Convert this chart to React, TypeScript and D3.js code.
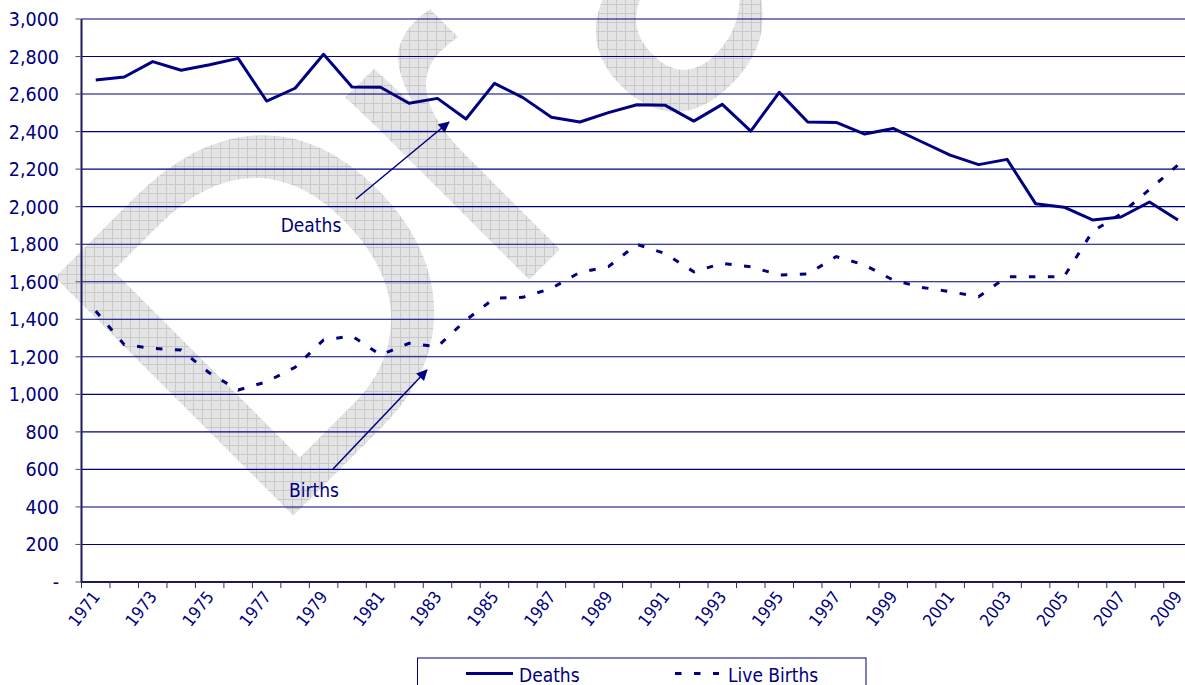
import React from "react";
import * as d3 from "d3";

const years: number[] = [
  1971, 1972, 1973, 1974, 1975, 1976, 1977, 1978, 1979, 1980,
  1981, 1982, 1983, 1984, 1985, 1986, 1987, 1988, 1989, 1990,
  1991, 1992, 1993, 1994, 1995, 1996, 1997, 1998, 1999, 2000,
  2001, 2002, 2003, 2004, 2005, 2006, 2007, 2008, 2009,
];

const deaths: number[] = [
  2675, 2691, 2773, 2727, 2756, 2790, 2563, 2631, 2812, 2638,
  2636, 2551, 2577, 2467, 2657, 2581, 2476, 2451, 2501, 2543,
  2540, 2456, 2545, 2403, 2609, 2451, 2449, 2387, 2417, 2346,
  2275, 2224, 2252, 2016, 1997, 1929, 1945, 2025, 1929,
];

const liveBirths: number[] = [
  1444, 1265, 1245, 1236, 1113, 1023, 1067, 1144, 1290, 1311,
  1210, 1272, 1254, 1396, 1512, 1517, 1565, 1650, 1680, 1799,
  1750, 1653, 1698, 1680, 1636, 1641, 1734, 1689, 1609, 1570,
  1547, 1520, 1627, 1627, 1627, 1868, 1962, 2092, 2222,
];

const yTicks: number[] = [0, 200, 400, 600, 800, 1000, 1200, 1400, 1600, 1800, 2000, 2200, 2400, 2600, 2800, 3000];
const xLabelYears: number[] = years.filter((y) => (y - 1971) % 2 === 0);
const seriesNames: string[] = ["Deaths", "Live Births"];
const watermarkLetters: string[] = ["D", "r", "a", "f", "t"];

const NAVY = "#000080";
const AXIS = "#1a1a5c";
const FONT = "'DejaVu Sans Condensed', 'DejaVu Sans', sans-serif";

export default function App() {
  const W = 1185;
  const H = 685;
  const left = 81.5;
  const step = 28.48;
  const x = d3.scaleBand<number>().domain(years).range([left, left + step * years.length]);
  const y = d3.scaleLinear().domain([0, 3000]).range([582, 19]);
  const cx = (yr: number) => (x(yr) as number) + x.bandwidth() / 2;

  const line = d3
    .line<number>()
    .x((_, i) => cx(years[i]))
    .y((d) => y(d));

  const fmt = (v: number) => (v === 0 ? "-" : d3.format(",")(v));
  const boundaries = [...years.map((yr) => x(yr) as number), left + step * years.length];
  const letterDx = [0, -14, 52, 0, 0];

  return (
    <svg
      width={W}
      height={H}
      style={{ position: "absolute", left: 0, top: 0, background: "#fff" }}
      fontFamily={FONT}
    >
      <defs>
        <pattern id="hatch" width={9} height={9} patternUnits="userSpaceOnUse" patternTransform="rotate(45)">
          <rect width={9} height={9} fill="#e4e4e4" />
          <path d="M0,0.5H9M0.5,0V9" stroke="#c9c9c9" strokeWidth={1} />
        </pattern>
        <marker id="arrow2" viewBox="0 0 12 12" refX={11} refY={6} markerWidth={13} markerHeight={11} orient="auto" markerUnits="userSpaceOnUse">
          <path d="M0,0L12,6L0,12z" fill={NAVY} />
        </marker>
      </defs>

      {/* watermark */}
      <text
        transform="translate(265,544) rotate(-45)"
        fontFamily="'Liberation Sans', Arial, sans-serif"
        fontSize={490}
        fill="url(#hatch)"
      >
        {watermarkLetters.map((l, i) => (
          <tspan key={i} dx={letterDx[i]}>
            {l}
          </tspan>
        ))}
      </text>

      {/* gridlines */}
      {yTicks.filter((t) => t > 0).map((t) => (
        <line key={t} x1={left} x2={W} y1={y(t)} y2={y(t)} stroke={NAVY} strokeWidth={1.1} />
      ))}

      {/* y axis */}
      <line x1={left} x2={left} y1={y(3000)} y2={y(0) + 1} stroke={AXIS} strokeWidth={2} />
      {yTicks.map((t) => (
        <g key={t}>
          <line x1={left - 6} x2={left} y1={y(t)} y2={y(t)} stroke="#555" strokeWidth={1} />
          <text x={59} y={y(t) + 7} textAnchor="end" fontSize={19.5} fill={NAVY}>
            {fmt(t)}
          </text>
        </g>
      ))}

      {/* x axis */}
      <line x1={left} x2={W} y1={y(0)} y2={y(0)} stroke={AXIS} strokeWidth={2} />
      {boundaries.map((b, i) => (
        <line key={i} x1={b} x2={b} y1={y(0)} y2={y(0) + 6} stroke="#333" strokeWidth={1} />
      ))}
      {xLabelYears.map((yr) => (
        <text
          key={yr}
          transform={`translate(${cx(yr) + 5},${597}) rotate(-52)`}
          textAnchor="end"
          fontSize={17}
          fill={NAVY}
        >
          {yr}
        </text>
      ))}

      {/* series */}
      <path d={line(deaths) || ""} fill="none" stroke={NAVY} strokeWidth={3} strokeLinejoin="round" />
      <path d={line(liveBirths) || ""} fill="none" stroke={NAVY} strokeWidth={3} strokeDasharray="6.5 12.5" />

      {/* annotations */}
      <line x1={356} y1={199} x2={449} y2={122} stroke={NAVY} strokeWidth={1.5} markerEnd="url(#arrow2)" />
      <text x={311} y={232} textAnchor="middle" fontSize={19} fill={NAVY}>
        Deaths
      </text>
      <line x1={333} y1={469} x2={427} y2={370} stroke={NAVY} strokeWidth={1.5} markerEnd="url(#arrow2)" />
      <text x={314} y={497} textAnchor="middle" fontSize={19} fill={NAVY}>
        Births
      </text>

      {/* legend */}
      <rect x={417.5} y={658} width={448.5} height={40} fill="#fff" stroke={NAVY} strokeWidth={1} />
      <line x1={466} x2={513} y1={673.5} y2={673.5} stroke={NAVY} strokeWidth={3} />
      <text x={519} y={681.5} fontSize={19} fill={NAVY}>
        {seriesNames[0]}
      </text>
      <line x1={675} x2={719} y1={673.5} y2={673.5} stroke={NAVY} strokeWidth={3} strokeDasharray="6.5 12.5" />
      <text x={728} y={681.5} fontSize={19} fill={NAVY}>
        {seriesNames[1]}
      </text>
    </svg>
  );
}
